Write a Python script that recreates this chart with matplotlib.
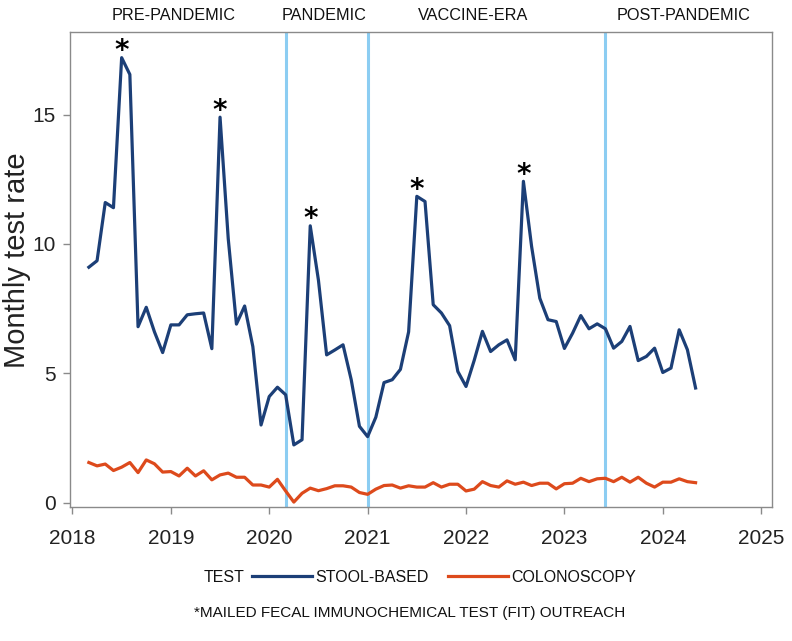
import matplotlib
matplotlib.use("Agg")
import matplotlib.pyplot as plt
from matplotlib.lines import Line2D
from matplotlib import font_manager as fm
import numpy as np

# ---------------- data ----------------
start_year = 2018
start_month = 3  # March 2018, monthly through May 2024

stool_based = [
    9.1, 9.35, 11.6, 11.4, 17.2, 16.55, 6.8, 7.55, 6.6, 5.8,                 # 2018 Mar-Dec
    6.87, 6.87, 7.26, 7.3, 7.33, 5.95, 14.9, 10.2, 6.9, 7.6, 6.03, 3.0,      # 2019
    4.1, 4.46, 4.17, 2.23, 2.43, 10.7, 8.6, 5.71, 5.9, 6.1, 4.75, 2.95,      # 2020
    2.55, 3.3, 4.64, 4.75, 5.15, 6.6, 11.84, 11.64, 7.65, 7.33, 6.84, 5.07,  # 2021
    4.49, 5.5, 6.62, 5.84, 6.1, 6.29, 5.52, 12.42, 9.9, 7.9, 7.07, 7.0,      # 2022
    5.96, 6.55, 7.23, 6.72, 6.91, 6.72, 5.97, 6.23, 6.81, 5.49, 5.65, 5.97,  # 2023
    5.03, 5.2, 6.68, 5.91, 4.43,                                             # 2024 Jan-May
]
colonoscopy = [
    1.55, 1.42, 1.49, 1.24, 1.37, 1.55, 1.16, 1.65, 1.5, 1.18,
    1.2, 1.03, 1.33, 1.03, 1.23, 0.88, 1.07, 1.14, 0.98, 0.98, 0.68, 0.68,
    0.6, 0.9, 0.45, 0.02, 0.36, 0.56, 0.46, 0.54, 0.65, 0.65, 0.6, 0.39,
    0.32, 0.52, 0.66, 0.68, 0.56, 0.65, 0.6, 0.6, 0.77, 0.6, 0.71, 0.71,
    0.45, 0.52, 0.81, 0.66, 0.6, 0.84, 0.71, 0.79, 0.66, 0.75, 0.75, 0.53,
    0.73, 0.75, 0.94, 0.81, 0.92, 0.94, 0.81, 0.98, 0.79, 0.98, 0.75, 0.6,
    0.79, 0.79, 0.92, 0.81, 0.77,
]
# FIT outreach months (year, month) marked with an asterisk
outreach_months = [(2018, 7), (2019, 7), (2020, 6), (2021, 7), (2022, 8)]
# period boundaries (year, month)
period_breaks = [(2020, 3), (2021, 1), (2023, 6)]
period_labels = ["PRE-PANDEMIC", "PANDEMIC", "VACCINE-ERA", "POST-PANDEMIC"]
period_label_x = [2019.03, 2020.56, 2022.07, 2024.21]
x_ticks = [2018, 2019, 2020, 2021, 2022, 2023, 2024, 2025]
y_ticks = [0, 5, 10, 15]
series_names = ["STOOL-BASED", "COLONOSCOPY"]


def to_dec(y, m):
    return y + (m - 1) / 12.0


t = np.array([to_dec(start_year + (start_month - 1 + i) // 12, (start_month - 1 + i) % 12 + 1)
              for i in range(len(stool_based))])

# ---------------- fonts ----------------
names = {f.name for f in fm.fontManager.ttflist}
narrow = ["Liberation Sans Narrow", "Liberation Sans", "DejaVu Sans"] if "Liberation Sans Narrow" in names else ["Liberation Sans", "DejaVu Sans"]
tickfont = ["Liberation Sans", "DejaVu Sans"]
TXT = 11.5

BLUE = "#1c3f77"
ORANGE = "#dd4a1c"
LIGHTBLUE = "#8ccdf2"
SPINE = "#8a8a8a"

fig = plt.figure(figsize=(7.92, 6.41), dpi=100)
L, R, T, B = 70, 772, 31.8, 507
ax = fig.add_axes([L / 792, 1 - B / 641, (R - L) / 792, (B - T) / 641])

for (yy, mm) in period_breaks:
    ax.axvline(to_dec(yy, mm), color=LIGHTBLUE, lw=2.2, zorder=1)

ax.plot(t, stool_based, color=BLUE, lw=2.3, zorder=3)
ax.plot(t, colonoscopy, color=ORANGE, lw=2.3, zorder=3)

for (yy, mm) in outreach_months:
    xi = to_dec(yy, mm)
    idx = int(np.argmin(np.abs(t - xi)))
    ax.annotate("*", (t[idx], stool_based[idx]), xytext=(0, -5.5), textcoords="offset points",
                ha="center", va="bottom", fontsize=20, fontweight="bold", color="black",
                family=["DejaVu Sans"])

ax.set_xlim(2017.975, 2025.11)
ax.set_ylim(-0.17, 18.2)
ax.set_xticks(x_ticks)
ax.set_yticks(y_ticks)
ax.set_xticklabels([str(v) for v in x_ticks], family=tickfont, fontsize=15, color="#222222")
ax.set_yticklabels([str(v) for v in y_ticks], family=tickfont, fontsize=15, color="#222222")
ax.tick_params(axis="both", which="both", direction="out", length=5, width=1, color=SPINE)
ax.tick_params(axis="x", pad=11)
ax.tick_params(axis="y", pad=5)
for s in ax.spines.values():
    s.set_color(SPINE)
    s.set_linewidth(1.0)

ax.set_ylabel("Monthly test rate", family=tickfont, fontsize=21, color="#222222")
ax.yaxis.set_label_coords(-0.056, 0.52)

tr = ax.get_xaxis_transform()
for lab, xp in zip(period_labels, period_label_x):
    ax.text(xp, 1.035, lab, transform=tr, ha="center", va="center", family=narrow,
            fontsize=TXT + 0.2, color="#111111", clip_on=False)

# legend
fig.text(224 / 792, 1 - 577 / 641, "TEST", ha="center", va="center", family=narrow,
         fontsize=TXT, color="#111111")
handles = [Line2D([0], [0], color=BLUE, lw=2.3), Line2D([0], [0], color=ORANGE, lw=2.3)]
leg = fig.legend(handles, series_names, loc="center left", bbox_to_anchor=(252 / 792, 1 - 577 / 641),
                 ncol=2, frameon=False, borderpad=0, borderaxespad=0, handlelength=3.75,
                 handletextpad=0.2, columnspacing=1.25, prop={"family": narrow, "size": TXT})
for txt in leg.get_texts():
    txt.set_color("#111111")

fig.text(410 / 792, 1 - 613 / 641, "*MAILED FECAL IMMUNOCHEMICAL TEST (FIT) OUTREACH",
         ha="center", va="center", family=narrow, fontsize=11, color="#111111")

fig.savefig("out.png", dpi=100)
